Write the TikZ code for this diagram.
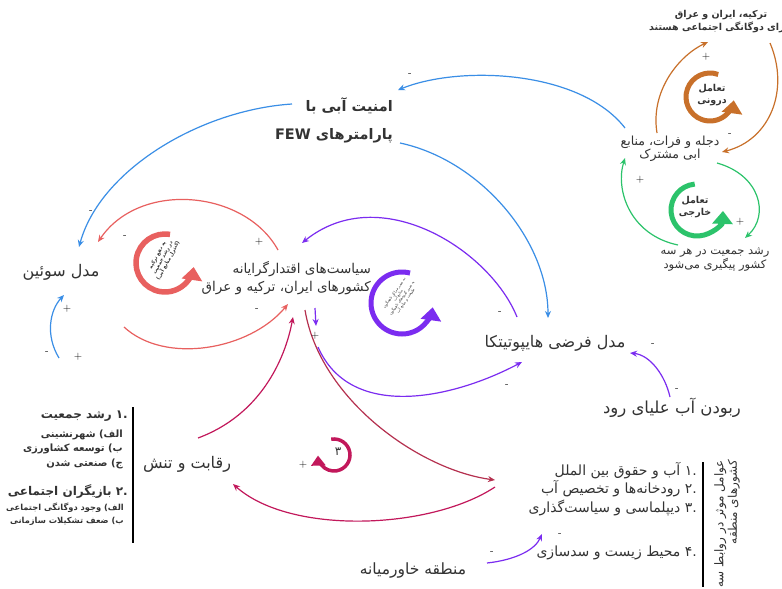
\documentclass[tikz,border=0pt]{standalone}
\usepackage{fontspec}
\usetikzlibrary{arrows.meta, calc}
\TeXXeTstate=1
\newfontfamily\fa[Script=Arabic]{DejaVu Sans}
\newcommand{\rl}[1]{\beginR #1\endR}
\definecolor{txt}{HTML}{333333}
\definecolor{orng}{HTML}{C8702A}
\definecolor{grn}{HTML}{2CC36B}
\definecolor{blu}{HTML}{3A8EE6}
\definecolor{salmon}{HTML}{E8605F}
\definecolor{prpl}{HTML}{7B2CF0}
\definecolor{mgnt}{HTML}{C2185B}
\definecolor{crims}{HTML}{B5304F}
\tikzset{
	lbl/.style={font=\fa\fontsize{12}{16}\selectfont, text=txt, align=center, inner sep=1pt},
	con/.style={line width=1.2pt, -{Stealth[length=7pt,width=6pt]}},
	loopline/.style={line width=5pt, -{Triangle[length=13pt,width=20pt]}},
	signlbl/.style={font=\fontsize{11}{11}\selectfont, inner sep=0pt},
}

\begin{document}
\begin{tikzpicture}[x=1pt, y=1pt]
	\useasboundingbox (0,0) rectangle (782,-589);
	\fill[white] (0,0) rectangle (782,-589);

	% main labels
	\node[lbl, font=\fa\bfseries\fontsize{9.5}{13}\selectfont] (dogane) at (721,-22) {\rl{ترکیه، ایران و عراق}\\\rl{دارای دوگانگی اجتماعی هستند}};
	\node[lbl, font=\fa\fontsize{12.5}{13}\selectfont] (dijle) at (670,-149) {\rl{دجله و فرات، منابع}\\\rl{ابی مشترک}};
	\node[lbl, font=\fa\fontsize{11.5}{14}\selectfont] (roshd) at (715,-260) {\rl{رشد جمعیت در هر سه}\\\rl{کشور پیگیری می‌شود}};
	\node[lbl, font=\fa\bfseries\fontsize{14.5}{28}\selectfont, align=right, anchor=east] (amniat) at (394,-120) {\rl{امنیت آبی با}\\\rl{پارامترهای FEW}};
	\node[lbl, font=\fa\fontsize{16}{18}\selectfont] (swain) at (61,-272) {\rl{مدل سوئین}};
	\node[lbl, align=right, anchor=east, font=\fa\fontsize{13.5}{18}\selectfont] (siasat) at (372,-278) {\rl{سیاست‌های اقتدارگرایانه}\\\rl{کشورهای ایران، ترکیه و عراق}};
	\node[lbl, font=\fa\fontsize{16}{18}\selectfont] (hypo) at (555,-343) {\rl{مدل فرضی هایپوتیتکا}};
	\node[lbl, font=\fa\fontsize{16.5}{18}\selectfont] (robudan) at (672,-408) {\rl{ربودن آب علیای رود}};
	\node[lbl, font=\fa\fontsize{16}{18}\selectfont] (reghabat) at (187,-464) {\rl{رقابت و تنش}};
	\node[lbl, font=\fa\fontsize{15.5}{18}\selectfont] (khavar) at (413,-570) {\rl{منطقه خاورمیانه}};

	% left list
	\node[lbl, anchor=east, font=\fa\bfseries\fontsize{12}{16}\selectfont] (jamiat) at (129,-416) {\rl{.۱ رشد جمعیت}};
	\node[lbl, anchor=east, align=right, font=\fa\bfseries\fontsize{10}{14.5}\selectfont] (jamiatsub) at (124,-449) {\rl{الف) شهرنشینی}\\\rl{ب) توسعه کشاورزی}\\\rl{ج) صنعتی شدن}};
	\node[lbl, anchor=east, font=\fa\bfseries\fontsize{12}{16}\selectfont] (bazigar) at (129,-492) {\rl{.۲ بازیگران اجتماعی}};
	\node[lbl, anchor=east, align=right, font=\fa\bfseries\fontsize{8.3}{12.5}\selectfont] (bazigarsub) at (125,-514) {\rl{الف) وجود دوگانگی اجتماعی}\\\rl{ب) ضعف تشکیلات سازمانی}};
	\draw[line width=2pt] (133,-407) -- (133,-543);

	% right list
	\node[lbl, anchor=north east, align=right, font=\fa\fontsize{14}{18.5}\selectfont] (avamel) at (698,-461) {\rl{.۱ آب و حقوق بین الملل}\\\rl{.۲ رودخانه‌ها و تخصیص آب}\\\rl{.۳ دیپلماسی و سیاست‌گذاری}\\[26pt]\rl{.۴ محیط زیست و سدسازی}};
	\draw[line width=2pt] (703,-462) -- (703,-587);
	\node[lbl, rotate=90, anchor=east, align=right, font=\fa\fontsize{12}{13.5}\selectfont] (rabete) at (727,-459) {\rl{عوامل موثر در روابط سه}\\\rl{کشورهای منطقه}};

	% loops
	\draw[loopline, orng] (710,-97) ++(70:24) arc[start angle=70, end angle=352, radius=24];
	\node[lbl, font=\fa\bfseries\fontsize{9.5}{11.5}\selectfont] (darooni) at (712,-95) {\rl{تعامل}\\\rl{درونی}};
	\draw[loopline, grn] (697,-210) ++(95:26) arc[start angle=95, end angle=358, radius=26];
	\node[lbl, font=\fa\bfseries\fontsize{9.5}{11.5}\selectfont] (khareji) at (695,-207) {\rl{تعامل}\\\rl{خارجی}};
	\draw[loopline, salmon, line width=5.5pt] (165,-263) ++(80:29) arc[start angle=80, end angle=352, radius=29];
	\node[lbl, rotate=62, font=\fa\bfseries\fontsize{5}{6}\selectfont] (nafe) at (163,-258) {\rl{به نفع ترکیه}\\\rl{در رشد جمعیت}\\\rl{(کنترل منابع آبی)}};
	\draw[loopline, prpl] (402,-303) ++(75:31) arc[start angle=75, end angle=352, radius=31];
	\node[lbl, rotate=55, font=\fa\fontsize{3.8}{4.6}\selectfont] (zarar) at (400,-297) {\rl{به ضرر مراکز ناهمگون}\\\rl{منابع آب}\\\rl{به ضرر گروه‌های ناهمگون}\\\rl{طبیعت و منابع آب}};
	\draw[mgnt, line width=3.5pt, -{Triangle[length=10pt,width=14pt]}] (334,-455) ++(100:16) arc[start angle=100, end angle=-178, radius=16];
	\node[lbl, font=\fa\fontsize{12}{13}\selectfont] (se) at (338,-452) {۳};

	% connectors
	\draw[con, orng] ([shift={(-13,16)}]dijle.center) .. controls (650,-90) and (680,-55) .. ([shift={(-13,-20)}]dogane.center);
	\draw[con, orng] ([shift={(49,-21)}]dogane.center) .. controls (790,-90) and (770,-140) .. ([shift={(52,-3)}]dijle.center);
	\draw[con, grn] ([shift={(-37,15)}]roshd.center) .. controls (630,-235) and (615,-190) .. ([shift={(-45,-9)}]dijle.center);
	\draw[con, grn] ([shift={(47,-14)}]dijle.center) .. controls (760,-175) and (770,-215) .. ([shift={(30,22)}]roshd.center);
	\draw[con, blu] ([shift={(-45,21)}]dijle.center) .. controls (580,-70) and (460,-65) .. ([shift={(4,30)}]amniat.east);
	\draw[con, blu] ([shift={(-102,16)}]amniat.east) .. controls (200,-110) and (100,-170) .. ([shift={(18,25)}]swain.center);
	\draw[con, blu] ([shift={(6,-23)}]amniat.east) .. controls (480,-160) and (548,-240) .. ([shift={(-7,25)}]hypo.center);
	\draw[con, blu] ([shift={(-2,-86)}]swain.center) .. controls (45,-335) and (50,-310) .. ([shift={(3,-23)}]swain.center);
	\draw[con, salmon] ([shift={(-94,28)}]siasat.east) .. controls (245,-190) and (140,-180) .. ([shift={(37,30)}]swain.center);
	\draw[con, salmon] ([shift={(63,-55)}]swain.center) .. controls (165,-365) and (250,-350) .. ([shift={(-84,-26)}]siasat.east);
	\draw[con, prpl] ([shift={(-38,26)}]hypo.center) .. controls (490,-250) and (380,-180) .. ([shift={(-70,35)}]siasat.east);
	\draw[con, prpl] ([shift={(-57,-30)}]siasat.east) -- ([shift={(-56,-48)}]siasat.east);
	\draw[con, prpl] ([shift={(-54,-69)}]siasat.east) .. controls (350,-420) and (450,-400) .. ([shift={(-33,-19)}]hypo.center);
	\draw[con, prpl] ([shift={(-2,11)}]robudan.center) .. controls (665,-375) and (650,-355) .. ([shift={(75,-10)}]hypo.center);
	\draw[con, prpl] ([shift={(74,7)}]khavar.center) .. controls (515,-560) and (535,-550) .. ([shift={(-156,-73)}]avamel.north east);
	\draw[con, crims] ([shift={(-67,-32)}]siasat.east) .. controls (320,-400) and (420,-470) .. ([shift={(-203,-19)}]avamel.north east);
	\draw[con, mgnt] ([shift={(11,26)}]reghabat.center) .. controls (260,-415) and (285,-360) .. ([shift={(-79,-39)}]siasat.east);
	\draw[con, mgnt] ([shift={(-203,-26)}]avamel.north east) .. controls (430,-530) and (290,-535) .. ([shift={(46,-20)}]reghabat.center);

	% signs
	\node[signlbl] (p1) at (706,-57) {+};
	\node[signlbl] (m1) at (730,-135) {-};
	\node[signlbl] (p2) at (640,-180) {+};
	\node[signlbl] (p3) at (740,-222) {+};
	\node[signlbl] (m2) at (410,-75) {-};
	\node[signlbl] (m3) at (91,-212) {-};
	\node[signlbl] (m4) at (125,-237) {-};
	\node[signlbl] (p4) at (259,-242) {+};
	\node[signlbl] (m5) at (257,-310) {-};
	\node[signlbl] (p5) at (67,-309) {+};
	\node[signlbl] (m6) at (47,-353) {-};
	\node[signlbl] (p6) at (78,-357) {+};
	\node[signlbl] (m7) at (500,-313) {-};
	\node[signlbl] (m8) at (653,-345) {-};
	\node[signlbl] (m9) at (507,-386) {-};
	\node[signlbl] (m10) at (677,-390) {-};
	\node[signlbl] (p7) at (315,-336) {+};
	\node[signlbl] (p8) at (303,-465) {+};
	\node[signlbl] (m11) at (560,-535) {-};
	\node[signlbl] (m12) at (492,-553) {-};
\end{tikzpicture}
\end{document}
